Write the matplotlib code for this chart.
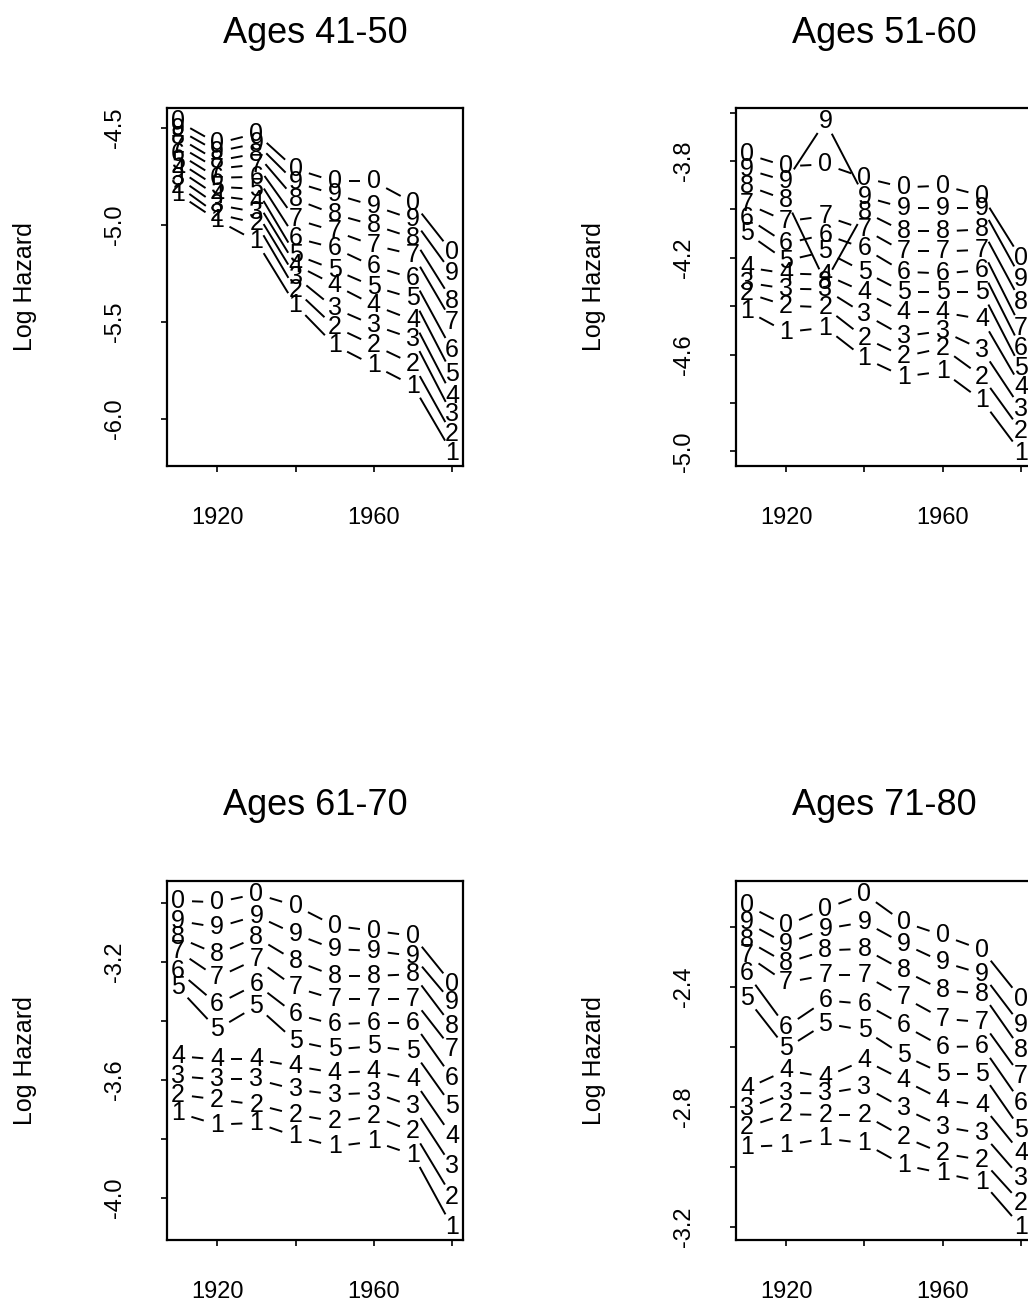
import matplotlib
matplotlib.use('Agg')
import matplotlib.pyplot as plt
import numpy as np

plt.rcParams['font.family'] = ['Liberation Sans', 'DejaVu Sans']

# годы наблюдений и метки серий (1..9, 0)
years = [1910, 1920, 1930, 1940, 1950, 1960, 1970, 1980]
series_labels = ['1', '2', '3', '4', '5', '6', '7', '8', '9', '0']

hazard_41_50 = [
    [-4.839, -4.974, -5.083, -5.412, -5.619, -5.723, -5.827, -6.173],
    [-4.797, -4.943, -4.990, -5.334, -5.524, -5.619, -5.715, -6.078],
    [-4.756, -4.896, -4.933, -5.265, -5.429, -5.516, -5.585, -5.975],
    [-4.714, -4.849, -4.875, -5.204, -5.308, -5.412, -5.490, -5.879],
    [-4.673, -4.803, -4.813, -5.152, -5.230, -5.317, -5.377, -5.767],
    [-4.631, -4.756, -4.751, -5.066, -5.118, -5.213, -5.274, -5.645],
    [-4.590, -4.709, -4.688, -4.970, -5.031, -5.104, -5.152, -5.498],
    [-4.548, -4.668, -4.631, -4.867, -4.944, -5.000, -5.066, -5.389],
    [-4.507, -4.621, -4.579, -4.780, -4.841, -4.901, -4.970, -5.248],
    [-4.465, -4.579, -4.528, -4.711, -4.775, -4.775, -4.884, -5.140],
]

hazard_51_60 = [
    [-4.419, -4.507, -4.489, -4.615, -4.691, -4.670, -4.790, -5.006],
    [-4.346, -4.398, -4.405, -4.531, -4.608, -4.573, -4.691, -4.915],
    [-4.303, -4.328, -4.331, -4.433, -4.524, -4.503, -4.580, -4.824],
    [-4.240, -4.265, -4.270, -4.342, -4.426, -4.426, -4.454, -4.733],
    [-4.098, -4.212, -4.174, -4.258, -4.342, -4.342, -4.342, -4.657],
    [-4.035, -4.141, -4.104, -4.161, -4.258, -4.265, -4.251, -4.573],
    [-3.977, -4.049, -4.028, -4.083, -4.174, -4.174, -4.167, -4.489],
    [-3.902, -3.961, -4.300, -4.010, -4.091, -4.091, -4.083, -4.384],
    [-3.835, -3.883, -3.636, -3.948, -3.993, -3.993, -3.993, -4.286],
    [-3.772, -3.822, -3.814, -3.870, -3.909, -3.902, -3.944, -4.203],
]

hazard_61_70 = [
    [-3.712, -3.752, -3.746, -3.792, -3.826, -3.809, -3.854, -4.098],
    [-3.650, -3.667, -3.684, -3.718, -3.741, -3.724, -3.775, -3.996],
    [-3.588, -3.599, -3.599, -3.633, -3.650, -3.644, -3.690, -3.894],
    [-3.520, -3.531, -3.531, -3.554, -3.576, -3.571, -3.599, -3.792],
    [-3.287, -3.429, -3.350, -3.469, -3.497, -3.486, -3.503, -3.690],
    [-3.231, -3.344, -3.276, -3.378, -3.412, -3.406, -3.406, -3.593],
    [-3.163, -3.253, -3.191, -3.287, -3.327, -3.327, -3.327, -3.497],
    [-3.117, -3.174, -3.117, -3.197, -3.248, -3.248, -3.242, -3.418],
    [-3.061, -3.083, -3.044, -3.106, -3.157, -3.163, -3.180, -3.338],
    [-2.993, -2.998, -2.970, -3.010, -3.078, -3.095, -3.112, -3.276],
]

hazard_71_80 = [
    [-2.933, -2.927, -2.905, -2.921, -2.994, -3.021, -3.049, -3.199],
    [-2.866, -2.824, -2.827, -2.827, -2.900, -2.955, -2.977, -3.121],
    [-2.805, -2.753, -2.755, -2.733, -2.805, -2.866, -2.888, -3.038],
    [-2.738, -2.678, -2.700, -2.644, -2.711, -2.777, -2.794, -2.955],
    [-2.438, -2.605, -2.522, -2.544, -2.628, -2.689, -2.689, -2.877],
    [-2.355, -2.533, -2.445, -2.456, -2.528, -2.600, -2.598, -2.786],
    [-2.295, -2.385, -2.361, -2.361, -2.434, -2.506, -2.517, -2.698],
    [-2.245, -2.320, -2.278, -2.273, -2.345, -2.411, -2.422, -2.609],
    [-2.185, -2.256, -2.206, -2.184, -2.256, -2.317, -2.356, -2.528],
    [-2.128, -2.195, -2.139, -2.090, -2.184, -2.228, -2.276, -2.439],
]

titles = ['Ages 41-50', 'Ages 51-60', 'Ages 61-70', 'Ages 71-80']
panel_data = [hazard_41_50, hazard_51_60, hazard_61_70, hazard_71_80]
y_ticks = [
    [-4.5, -5.0, -5.5, -6.0],
    [-3.6, -3.8, -4.0, -4.2, -4.4, -4.6, -4.8, -5.0],
    [-3.0, -3.2, -3.4, -3.6, -3.8, -4.0],
    [-2.2, -2.4, -2.6, -2.8, -3.0, -3.2],
]
y_labeled = [
    [-4.5, -5.0, -5.5, -6.0],
    [-3.8, -4.2, -4.6, -5.0],
    [-3.2, -3.6, -4.0],
    [-2.4, -2.8, -3.2],
]
x_ticks = [1920, 1940, 1960, 1980]
x_labeled = [1920, 1960]

# положение панелей на листе (правый столбец обрезан краем картинки)
rects = [
    [0.1625, 0.6459, 0.288, 0.272],
    [0.716, 0.6459, 0.288, 0.272],
    [0.1625, 0.0578, 0.288, 0.273],
    [0.716, 0.0578, 0.288, 0.273],
]

GAP = 14  # пиксели вокруг цифры, как у type="b" в R


def draw_series(ax, xs, ys, label):
    pts = ax.transData.transform(np.column_stack([xs, ys]))
    inv = ax.transData.inverted()
    for p0, p1 in zip(pts[:-1], pts[1:]):
        d = p1 - p0
        dist = np.hypot(d[0], d[1])
        if dist > 2 * GAP:
            u = d / dist
            seg = inv.transform([p0 + u * GAP, p1 - u * GAP])
            ax.plot(seg[:, 0], seg[:, 1], color='black', lw=1.4,
                    solid_capstyle='butt')
    for x, y in zip(xs, ys):
        ax.text(x, y, label, ha='center', va='center', fontsize=18,
                color='black')


fig = plt.figure(figsize=(10.28, 13.16), dpi=100)

for title, data, yt, yl, rect in zip(titles, panel_data, y_ticks, y_labeled, rects):
    ax = fig.add_axes(rect)
    arr = np.array(data)
    lo, hi = arr.min(), arr.max()
    pad = 0.04 * (hi - lo)
    ax.set_ylim(lo - pad, hi + pad)
    xpad = 0.04 * (years[-1] - years[0])
    ax.set_xlim(years[0] - xpad, years[-1] + xpad)

    ax.set_xticks(x_ticks)
    ax.set_xticklabels([str(t) if t in x_labeled else '' for t in x_ticks])
    ax.set_yticks(yt)
    ax.set_yticklabels([f'{t:.1f}' if t in yl else '' for t in yt],
                       rotation=90, va='center')
    ax.tick_params(direction='out', length=4.5, width=1.2, labelsize=17, pad=25)
    for sp in ax.spines.values():
        sp.set_linewidth(1.6)

    ax.set_title(title, fontsize=26, pad=47)
    ax.set_ylabel('Log Hazard', fontsize=18)
    ax.yaxis.set_label_coords(-0.44, 0.5)

    for vals, lab in zip(data, series_labels):
        draw_series(ax, years, vals, lab)

plt.savefig('out.png', dpi=100)
plt.close()
